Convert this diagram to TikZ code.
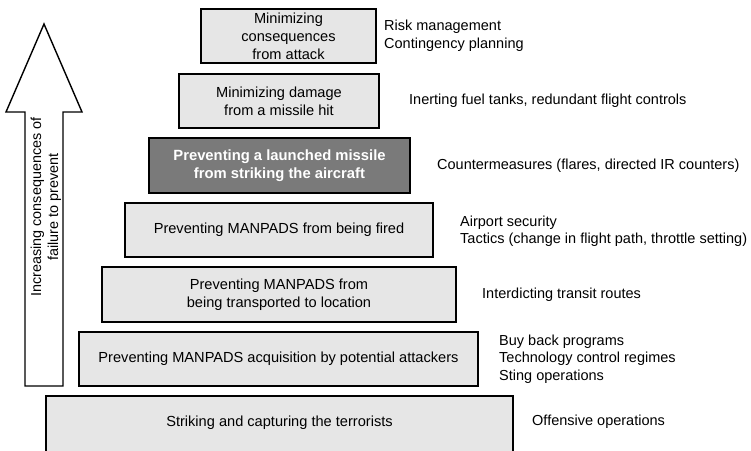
\documentclass[tikz,border=0pt]{standalone}
\usepackage{fontspec}
\setmainfont{Liberation Sans}
\definecolor{tierfill}{RGB}{230,230,230}
\definecolor{darkfill}{RGB}{122,122,122}
\begin{document}
\begin{tikzpicture}[x=1pt,y=-1pt,
  tier/.style={draw=black,line width=1.4pt,fill=tierfill,inner sep=0pt,align=center,font=\fontsize{14.6}{18}\selectfont},
  darktier/.style={tier,fill=darkfill,text=white,font=\fontsize{14.8}{18}\selectfont\bfseries},
  note/.style={anchor=west,inner sep=0pt,align=left,font=\fontsize{14.5}{17.5}\selectfont}]
\useasboundingbox (0,0) rectangle (751,450);
\node[tier,minimum width=175pt,minimum height=54pt] (t1) at (288.5,36) {Minimizing\\consequences\\from attack};
\node[tier,minimum width=200pt,minimum height=54pt] (t2) at (279,101) {Minimizing damage\\from a missile hit};
\node[darktier,minimum width=261pt,minimum height=55pt] (t3) at (279.5,165.5) {Preventing a launched missile\\from striking the aircraft};
\node[tier,minimum width=308pt,minimum height=54pt] (t4) at (279,230) {Preventing MANPADS from being fired};
\node[tier,minimum width=354pt,minimum height=55pt] (t5) at (279,294.5) {Preventing MANPADS from\\being transported to location};
\node[tier,minimum width=399pt,minimum height=54pt] (t6) at (278.5,359) {Preventing MANPADS acquisition by potential attackers};
\node[tier,minimum width=467pt,minimum height=60pt] (t7) at (279.5,426) {};
\node[font=\fontsize{14.6}{18}\selectfont,inner sep=0pt] (t7txt) at (279.5,423) {Striking and capturing the terrorists};
\node[note] (n1) at (384,36) {Risk management\\Contingency planning};
\node[note] (n2) at (409,101) {Inerting fuel tanks, redundant flight controls};
\node[note] (n3) at (437,166) {Countermeasures (flares, directed IR counters)};
\node[note] (n4) at (460,231) {Airport security\\Tactics (change in flight path, throttle setting)};
\node[note] (n5) at (482,295) {Interdicting transit routes};
\node[note] (n6) at (499,359) {Buy back programs\\Technology control regimes\\Sting operations};
\node[note] (n7) at (532,422) {Offensive operations};
\draw[line width=1.4pt,fill=white,line join=miter] (25,386) -- (25,112) -- (6,112) -- (44,24) -- (82,112) -- (63,112) -- (63,386) -- cycle;
\node[rotate=90,align=center,inner sep=0pt,font=\fontsize{14.4}{17}\selectfont] (lbl) at (46,207) {Increasing consequences of\\failure to prevent};
\end{tikzpicture}
\end{document}
